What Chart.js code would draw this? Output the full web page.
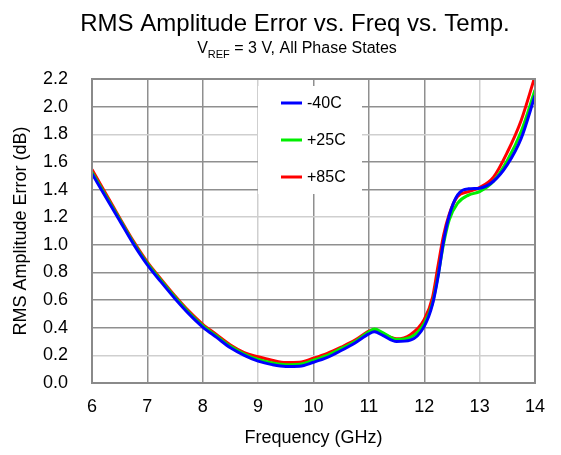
<!DOCTYPE html>
<html>
<head>
<meta charset="utf-8">
<script src="https://cdn.jsdelivr.net/npm/chart.js@4"></script>
<style>
  html, body { margin: 0; padding: 0; background: #fff; }
  #wrap { width: 561px; height: 455px; }
</style>
</head>
<body>
<div id="wrap"><canvas id="rmsChart" width="561" height="455"></canvas></div>
<script>
// frequency points (GHz) and RMS amplitude error (dB) per temperature
const freqGHz = [6.0, 6.25, 6.5, 6.75, 7.0, 7.25, 7.5, 7.75, 8.0, 8.25, 8.5, 8.75, 9.0, 9.25, 9.5, 9.75,
    10.0, 10.25, 10.5, 10.75, 11.0, 11.1, 11.25, 11.5, 11.75, 12.0, 12.15, 12.25, 12.35, 12.45, 12.6, 12.8,
    13.0, 13.25, 13.5, 13.75, 14.0];
const errM40 = [1.515, 1.345, 1.175, 1.005, 0.855, 0.73, 0.61, 0.50, 0.405, 0.33, 0.255, 0.20, 0.158, 0.133, 0.12, 0.122,
    0.15, 0.185, 0.235, 0.29, 0.355, 0.37, 0.345, 0.30, 0.31, 0.41, 0.57, 0.77, 1.03, 1.21, 1.36, 1.405,
    1.41, 1.46, 1.58, 1.77, 2.08];
const errP25 = [1.525, 1.355, 1.185, 1.015, 0.865, 0.74, 0.62, 0.51, 0.415, 0.34, 0.265, 0.21, 0.17, 0.145, 0.132, 0.135,
    0.165, 0.20, 0.25, 0.30, 0.37, 0.39, 0.365, 0.315, 0.33, 0.43, 0.58, 0.78, 1.01, 1.18, 1.30, 1.36,
    1.385, 1.46, 1.61, 1.82, 2.12];
const errP85 = [1.545, 1.37, 1.195, 1.025, 0.875, 0.75, 0.63, 0.52, 0.425, 0.35, 0.275, 0.22, 0.19, 0.165, 0.148, 0.15,
    0.18, 0.215, 0.26, 0.31, 0.375, 0.385, 0.355, 0.32, 0.35, 0.46, 0.62, 0.85, 1.07, 1.22, 1.35, 1.385,
    1.415, 1.49, 1.67, 1.90, 2.22];
const seriesLabels = ['-40C', '+25C', '+85C'];
const seriesColors = ['#0000ff', '#00ee00', '#ff0000'];
const xTicks = [6, 7, 8, 9, 10, 11, 12, 13, 14];
const yTicks = [0.0, 0.2, 0.4, 0.6, 0.8, 1.0, 1.2, 1.4, 1.6, 1.8, 2.0, 2.2];

const FONT = '"Liberation Sans", Arial, Helvetica, sans-serif';
const lightX = [9, 13];
const lightY = [0.2, 1.2, 1.8];

function toPoints(vals) {
    return freqGHz.map((f, i) => ({ x: f, y: vals[i] }));
}

const titlePlugin = {
    id: 'titles',
    afterDraw(chart) {
        const c = chart.ctx;
        c.save();
        c.fillStyle = '#000';
        c.textBaseline = 'alphabetic';
        c.textAlign = 'center';
        c.font = '24px ' + FONT;
        c.fillText('RMS Amplitude Error vs. Freq vs. Temp.', 295, 31);
        // subtitle with subscript
        c.textAlign = 'left';
        const p1 = 'V', p3 = ' = 3 V, All Phase States';
        c.font = '11px ' + FONT;
        const subW = c.measureText('REF').width;
        c.font = '16px ' + FONT;
        const w1 = c.measureText(p1).width, w3 = c.measureText(p3).width;
        let x = 297 - (w1 + subW + w3) / 2;
        c.fillText(p1, x, 53);
        x += w1;
        c.font = '11px ' + FONT;
        c.fillText('REF', x, 58);
        x += subW;
        c.font = '16px ' + FONT;
        c.fillText(p3, x, 53);
        c.restore();
    }
};

const framePlugin = {
    id: 'frame',
    afterDatasetsDraw(chart) {
        const c = chart.ctx, a = chart.chartArea;
        c.save();
        c.strokeStyle = '#8a8a8a';
        c.lineWidth = 2;
        c.strokeRect(a.left, a.top, a.right - a.left, a.bottom - a.top);
        c.restore();
    }
};

const legendPlugin = {
    id: 'boxLegend',
    afterDatasetsDraw(chart) {
        const c = chart.ctx;
        c.save();
        c.fillStyle = '#fff';
        c.fillRect(258, 86, 104, 108);
        c.font = '16px ' + FONT;
        c.textBaseline = 'middle';
        c.textAlign = 'left';
        chart.data.datasets.forEach((ds, i) => {
            const y = 103 + i * 37;
            c.strokeStyle = ds.borderColor;
            c.lineWidth = 3;
            c.beginPath();
            c.moveTo(281, y);
            c.lineTo(302, y);
            c.stroke();
            c.fillStyle = '#000';
            c.fillText(ds.label, 307, y + 1);
        });
        c.restore();
    }
};

const ctx = document.getElementById('rmsChart').getContext('2d');
const rmsChart = new Chart(ctx, {
    type: 'line',
    data: {
        datasets: [errM40, errP25, errP85].map((vals, i) => ({
            label: seriesLabels[i],
            data: toPoints(vals),
            borderColor: seriesColors[i],
            borderWidth: 3,
            pointRadius: 0,
            fill: false,
            cubicInterpolationMode: 'monotone'
        }))
    },
    options: {
        responsive: false,
        animation: false,
        layout: { padding: { top: 79, right: 26, left: 0, bottom: 0 } },
        plugins: {
            legend: { display: false },
            title: { display: false },
            tooltip: { enabled: false }
        },
        scales: {
            x: {
                type: 'linear',
                min: 6,
                max: 14,
                afterBuildTicks: (s) => { s.ticks = xTicks.map(v => ({ value: v })); },
                afterFit: (s) => { s.height = 72; },
                grid: {
                    drawTicks: false,
                    color: (g) => lightX.includes(g.tick && g.tick.value) ? '#cfcfcf' : '#8f8f8f',
                    lineWidth: 1.5
                },
                border: { display: false },
                ticks: {
                    padding: 13,
                    color: '#000',
                    font: { family: FONT, size: 18 },
                    maxRotation: 0
                },
                title: {
                    display: true,
                    text: 'Frequency (GHz)',
                    color: '#000',
                    font: { family: FONT, size: 18 },
                    padding: { top: 0, bottom: 6 }
                }
            },
            y: {
                type: 'linear',
                min: 0,
                max: 2.2,
                afterBuildTicks: (s) => { s.ticks = yTicks.map(v => ({ value: v })); },
                afterFit: (s) => { s.width = 92; },
                grid: {
                    drawTicks: false,
                    color: (g) => lightY.some(v => Math.abs(v - (g.tick ? g.tick.value : -1)) < 1e-6) ? '#cfcfcf' : '#8f8f8f',
                    lineWidth: 1.5
                },
                border: { display: false },
                ticks: {
                    padding: 24,
                    color: '#000',
                    font: { family: FONT, size: 18 },
                    callback: (v) => Number(v).toFixed(1)
                },
                title: {
                    display: true,
                    text: 'RMS Amplitude Error (dB)',
                    color: '#000',
                    font: { family: FONT, size: 18 },
                    padding: { top: 10, bottom: 0 }
                }
            }
        }
    },
    plugins: [titlePlugin, legendPlugin, framePlugin]
});
</script>
</body>
</html>
